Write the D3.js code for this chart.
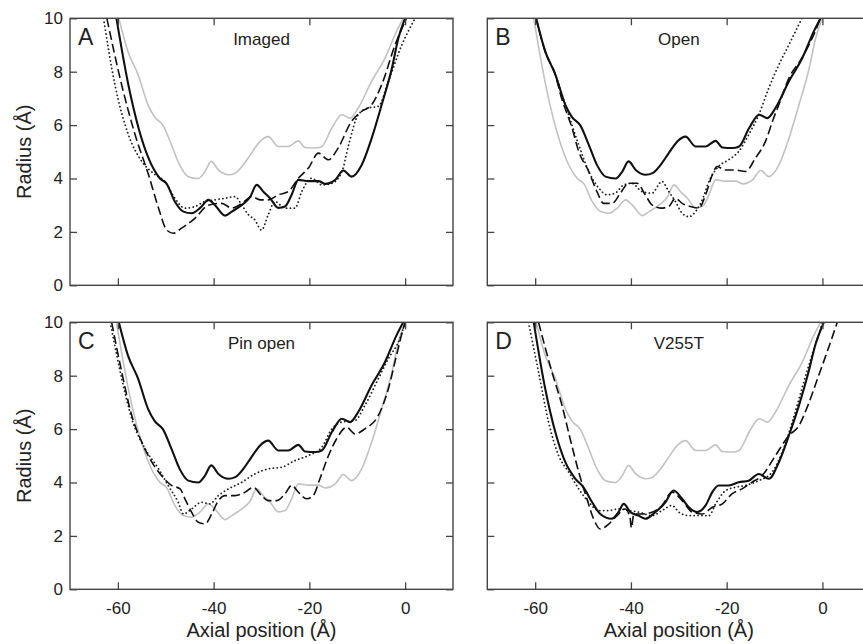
<!DOCTYPE html>
<html><head><meta charset="utf-8">
<script src="https://cdn.jsdelivr.net/npm/d3@7"></script>
<style>body{margin:0;background:#fff}svg{display:block}text{font-family:"Liberation Sans",Arial,sans-serif;fill:#222}</style>
</head><body><svg id="c" width="863" height="644"></svg>
<script>
// ---- data: [axial position (Å), radius (Å)] ----
const imaged = [[-60.3,10],[-57.8,7.5],[-55.7,5.9],[-53.6,4.76],[-51.2,4.0],[-49.8,3.8],[-48.1,3.14],[-46.3,2.76],[-44.6,2.7],[-42.8,2.9],[-41.1,3.2],[-39.7,3.0],[-37.6,2.61],[-36.2,2.76],[-34.1,3.01],[-32.4,3.3],[-31.0,3.76],[-29.6,3.5],[-28.2,3.26],[-26.5,2.9],[-25.1,2.95],[-23.7,3.39],[-22.3,3.95],[-20.2,3.9],[-18.1,3.9],[-16.7,3.8],[-14.6,3.95],[-12.9,4.3],[-11.2,4.07],[-9.1,4.5],[-7.0,5.5],[-4.9,6.76],[-2.8,8.1],[-1.4,9.26],[0,10]];
const open = [[-59.8,10],[-57.9,8.76],[-55.8,7.9],[-53.7,6.76],[-52.3,6.3],[-50.6,6.0],[-48.8,5.26],[-47.1,4.51],[-45.3,4.07],[-43.2,4.0],[-41.8,4.26],[-40.5,4.64],[-39.0,4.32],[-36.9,4.14],[-35.5,4.2],[-33.8,4.51],[-32.1,4.95],[-30.3,5.39],[-28.6,5.57],[-26.5,5.2],[-24.4,5.2],[-22.3,5.41],[-20.9,5.16],[-18.8,5.14],[-17.4,5.2],[-15.3,5.89],[-13.2,6.39],[-11.5,6.26],[-9.8,6.64],[-7.0,7.64],[-4.2,8.51],[-1.8,9.51],[-0.4,10]];
const imagedDash = [[-62.3,10],[-59.2,7.5],[-56.4,5.64],[-53.6,4.14],[-51.5,2.89],[-49.8,2.07],[-48.4,1.95],[-46.7,2.14],[-43.9,2.51],[-41.1,3.0],[-38.3,3.07],[-36.2,2.89],[-34.1,3.07],[-32.0,3.32],[-30.3,3.2],[-28.6,3.2],[-26.5,3.39],[-24.4,3.51],[-22.3,4.01],[-20.2,4.39],[-18.1,4.95],[-16.0,4.7],[-14.0,5.14],[-11.2,6.14],[-9.1,6.51],[-7.0,6.76],[-4.9,7.51],[-2.1,9.0],[0.3,10]];
const imagedDot = [[-63.0,10],[-60.6,7.5],[-57.8,5.64],[-55.0,4.64],[-52.2,4.14],[-50.2,3.89],[-48.1,3.26],[-46.0,2.89],[-43.9,2.95],[-41.8,3.14],[-39.7,3.2],[-37.6,3.26],[-35.5,3.32],[-34.1,3.0],[-32.7,2.64],[-31.4,2.45],[-30.0,2.07],[-28.6,2.64],[-27.2,3.14],[-25.1,2.89],[-23.0,2.89],[-21.6,3.51],[-19.5,4.01],[-17.4,3.76],[-15.3,3.82],[-13.2,4.26],[-11.8,5.26],[-9.8,6.39],[-7.7,6.64],[-5.6,6.7],[-3.5,7.64],[-0.7,9.0],[2.1,10]];
const openDash = [[-59.8,10],[-57.9,8.76],[-55.8,7.9],[-54.4,6.95],[-53.7,6.6],[-52.3,5.89],[-50.9,5.01],[-48.8,4.26],[-47.1,3.51],[-45.7,3.07],[-43.9,3.07],[-42.2,3.45],[-40.5,3.82],[-38.7,3.82],[-37.0,3.39],[-35.6,3.01],[-33.8,2.89],[-32.1,2.95],[-30.7,3.26],[-29.3,3.07],[-27.6,2.95],[-25.8,2.89],[-24.4,3.39],[-23.0,4.14],[-22.0,4.45],[-20.3,4.32],[-18.2,4.32],[-16.1,4.26],[-14.0,4.76],[-11.9,5.39],[-10.2,6.26],[-9.1,6.76],[-7.0,7.76],[-4.3,8.51],[-1.8,9.39],[-0.4,10]];
const openDot = [[-59.8,10],[-57.9,8.76],[-55.8,7.9],[-53.7,6.76],[-50.9,5.26],[-48.8,4.26],[-46.7,3.64],[-45.0,3.39],[-43.3,3.45],[-41.5,3.76],[-39.8,3.82],[-37.7,3.51],[-35.6,3.45],[-33.5,3.89],[-32.1,3.51],[-30.7,3.14],[-29.3,2.7],[-27.9,2.57],[-26.5,2.76],[-25.1,3.2],[-23.7,3.89],[-21.7,4.45],[-19.6,4.7],[-17.5,5.01],[-15.4,5.64],[-13.3,6.39],[-11.2,7.39],[-9.1,8.26],[-7.0,9.01],[-4.3,10]];
const pinDash = [[-61.3,10],[-59.2,8.14],[-57.1,6.51],[-55.0,5.51],[-52.9,4.76],[-50.9,4.26],[-48.8,3.89],[-47.0,3.76],[-46.0,3.39],[-44.6,2.89],[-43.2,2.51],[-41.8,2.45],[-40.4,2.82],[-39.0,3.32],[-37.6,3.51],[-35.5,3.51],[-33.4,3.64],[-31.7,3.82],[-30.0,3.51],[-28.6,3.32],[-26.8,3.32],[-25.1,3.57],[-23.7,3.89],[-22.3,3.64],[-20.6,3.39],[-19.2,3.51],[-17.8,4.14],[-16.0,5.01],[-14.3,5.64],[-12.2,6.07],[-10.5,5.82],[-8.4,6.01],[-5.6,6.51],[-3.5,7.51],[-1.8,8.76],[-0.4,9.76],[0,10]];
const pinDot = [[-61.6,10],[-59.2,7.9],[-57.1,6.39],[-54.3,5.26],[-51.5,4.51],[-49.5,3.89],[-47.4,3.26],[-46.3,2.82],[-44.6,3.01],[-42.5,3.26],[-40.8,3.2],[-39.0,3.51],[-36.9,3.76],[-34.1,4.01],[-31.4,4.32],[-28.6,4.51],[-25.8,4.57],[-23.0,4.82],[-20.2,5.01],[-17.4,5.32],[-15.3,6.01],[-13.3,6.26],[-10.5,6.32],[-8.4,6.89],[-5.6,7.89],[-3.5,8.64],[-1.1,9.39],[0,10]];
const v255t = [[-60.3,10],[-57.9,7.51],[-55.8,5.89],[-53.7,4.76],[-51.6,4.14],[-49.9,3.82],[-48.1,3.26],[-46.4,2.82],[-44.0,2.64],[-42.6,2.89],[-41.5,3.2],[-40.1,2.89],[-38.4,2.76],[-37.0,2.64],[-34.9,2.89],[-32.8,3.26],[-31.1,3.7],[-29.3,3.39],[-27.9,3.07],[-26.2,2.89],[-24.4,3.14],[-23.0,3.64],[-21.7,3.89],[-19.6,3.89],[-17.5,4.01],[-15.4,4.07],[-13.3,4.32],[-11.2,4.14],[-9.1,4.76],[-7.0,5.76],[-4.9,6.89],[-2.9,8.14],[-1.5,9.14],[0.3,10]];
const v255tDash = [[-59.3,10],[-56.5,8.14],[-54.4,6.89],[-52.7,5.64],[-50.9,4.39],[-49.2,3.39],[-47.8,2.64],[-46.4,2.26],[-44.6,2.45],[-42.9,2.76],[-41.2,3.01],[-40.2,2.7],[-39.9,2.3],[-39.4,2.82],[-37.7,2.82],[-35.6,2.89],[-33.5,3.14],[-31.4,3.64],[-29.3,3.32],[-27.2,2.89],[-25.1,2.82],[-23.0,3.07],[-20.9,3.2],[-18.9,3.57],[-16.8,3.76],[-14.7,4.01],[-12.6,4.26],[-9.8,5.01],[-7.0,5.76],[-5.0,6.1],[-3.0,6.9],[-1.0,7.9],[1.0,8.9],[3.1,10]];
const v255tDot = [[-61.4,10],[-59.3,8.14],[-57.2,6.26],[-55.1,5.01],[-53.0,4.39],[-50.9,3.76],[-48.8,3.26],[-46.7,2.95],[-44.6,2.95],[-42.5,3.01],[-40.5,2.95],[-38.4,2.89],[-35.6,2.76],[-33.5,2.95],[-31.4,3.14],[-30.0,2.89],[-27.9,2.76],[-25.8,2.76],[-23.7,2.76],[-22.3,3.2],[-20.2,3.7],[-18.2,3.82],[-16.1,3.89],[-13.3,4.07],[-10.5,4.39],[-8.4,5.14],[-6.3,6.26],[-4.3,7.51],[-2.2,8.76],[-0.4,9.76],[0,10]];

const panelLetters = ["A","B","C","D"];
const panelTitles = ["Imaged","Open","Pin open","V255T"];
const graySeries = [open, imaged, imaged, open];
const dotSeries = [imagedDot, openDot, pinDot, v255tDot];
const dashSeries = [imagedDash, openDash, pinDash, v255tDash];
const blackSeries = [imaged, open, open, v255t];
const xTicks = [-60,-40,-20,0];
const yTicks = [0,2,4,6,8,10];
const xTitle = "Axial position (Å)";
const yTitle = "Radius (Å)";

// ---- layout ----
const W = 383, H = 267;
const origins = [[70,18.3],[487.3,18.3],[70,322.3],[487.3,322.3]];
const svg = d3.select("#c");
const x = d3.scaleLinear().domain([-70,10]).range([0,W]);
const y = d3.scaleLinear().domain([0,10]).range([H,0]);
const line = d3.line().x(d=>x(d[0])).y(d=>y(d[1])).curve(d3.curveMonotoneX);

const styles = [
  {key:"gray", color:"#c2c2c2", w:1.6, dash:null, cap:"butt"},
  {key:"dot", color:"#222", w:1.8, dash:"0.1,3.8", cap:"round"},
  {key:"dash", color:"#111", w:1.6, dash:"9,4", cap:"butt"},
  {key:"black", color:"#111", w:2.1, dash:null, cap:"butt"}
];

origins.forEach((o,i)=>{
  const g = svg.append("g").attr("transform",`translate(${o[0]},${o[1]})`);
  const cid = "clip"+i;
  g.append("clipPath").attr("id",cid).append("rect").attr("width",W).attr("height",H);
  const plot = g.append("g").attr("clip-path",`url(#${cid})`);
  const data = {gray:graySeries[i], dot:dotSeries[i], dash:dashSeries[i], black:blackSeries[i]};
  styles.forEach(s=>{
    plot.append("path").datum(data[s.key]).attr("d",line)
      .attr("fill","none").attr("stroke",s.color).attr("stroke-width",s.w)
      .attr("stroke-dasharray",s.dash).attr("stroke-linecap",s.cap).attr("stroke-linejoin","round");
  });
  // axes with inward ticks on all four sides
  const tick = 7;
  const axB = g.append("g").attr("transform",`translate(0,${H})`)
    .call(d3.axisBottom(x).tickValues(xTicks).tickSizeInner(-tick).tickSizeOuter(0).tickFormat(d=> (i>=2? d3.format("d")(d).replace("−","-") : "")));
  const axT = g.append("g").call(d3.axisTop(x).tickValues(xTicks).tickSizeInner(-tick).tickSizeOuter(0).tickFormat(""));
  const axL = g.append("g").call(d3.axisLeft(y).tickValues(yTicks).tickSizeInner(-tick).tickSizeOuter(0).tickFormat(d=> (i%2===0? d : "")));
  const axR = g.append("g").attr("transform",`translate(${W},0)`)
    .call(d3.axisRight(y).tickValues(yTicks).tickSizeInner(-tick).tickSizeOuter(0).tickFormat(""));
  [axB,axT,axL,axR].forEach(a=>{
    a.select(".domain").remove();
    a.selectAll(".tick line").attr("stroke","#444").attr("stroke-width",1.3);
    a.selectAll(".tick text").attr("font-size",17).attr("fill","#222").style("font-family","'Liberation Sans',Arial,sans-serif");
  });
  axB.selectAll(".tick text").attr("y",13);
  axL.selectAll(".tick text").attr("x",-7);
  g.append("rect").attr("width",W).attr("height",H).attr("fill","none").attr("stroke","#444").attr("stroke-width",1.4);
  g.append("text").attr("x",8).attr("y",27).attr("font-size",23).text(panelLetters[i]);
  g.append("text").attr("x",W/2).attr("y",26.5).attr("text-anchor","middle").attr("font-size",17).text(panelTitles[i]);
  if(i>=2){
    g.append("text").attr("x",W/2).attr("y",H+47.5).attr("text-anchor","middle").attr("font-size",20).text(xTitle);
  }
  if(i%2===0){
    g.append("text").attr("transform",`translate(${31-o[0]},${H/2}) rotate(-90)`).attr("text-anchor","middle").attr("font-size",20).text(yTitle);
  }
});
</script></body></html>
